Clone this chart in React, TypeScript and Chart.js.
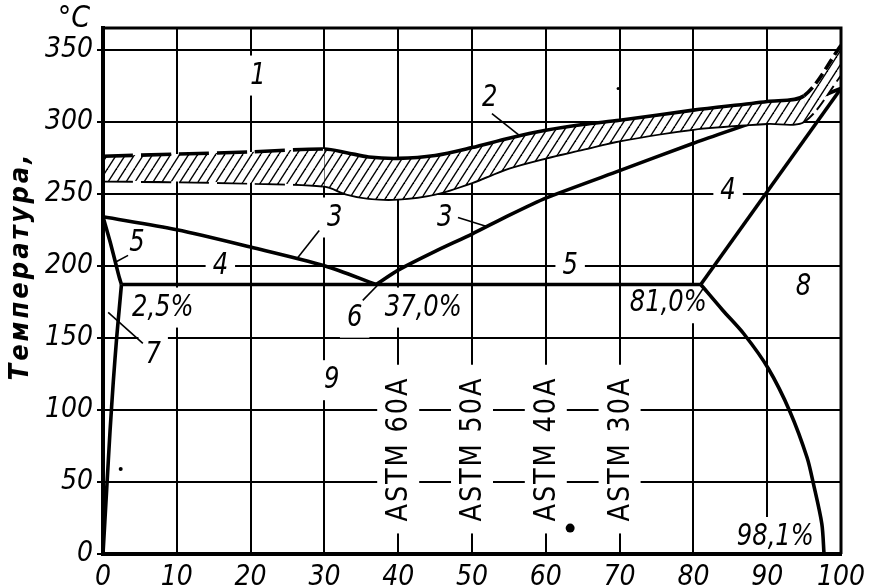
import React, { useEffect, useRef } from "react";
import { Chart, registerables } from "chart.js";
Chart.register(...registerables);

const FONT = "'DejaVu Sans Condensed', 'Liberation Sans Narrow', 'Roboto Condensed', 'DejaVu Sans', sans-serif";

// axis ticks
const xTickValues = [0, 10, 20, 30, 40, 50, 60, 70, 80, 90, 100];
const yTickValues = [0, 50, 100, 150, 200, 250, 300, 350];

// hatched band (2)
const bandX = [0, 10, 20, 30, 33, 36, 40, 45, 50, 55, 60, 65, 70, 80, 90, 95, 100];
const bandUpper = [276, 277.5, 279, 281, 278.5, 275.5, 274.5, 276.5, 282, 288.5, 294, 298, 301, 308, 314, 318, 353];
const bandLower = [259, 258.5, 257.5, 255.5, 250, 247, 246.5, 250, 258, 268, 275, 281, 287, 295, 299, 300.5, 333];

// liquidus (3)
const liqLeftX = [0, 10, 20, 30, 37];
const liqLeftY = [234, 225, 213, 200, 187];
const liqRightX = [37, 40, 45, 50, 55, 60, 70, 80, 90, 100];
const liqRightY = [187, 197, 210, 222, 235, 247, 266, 285, 303, 323];

// solidus (5)
const solLeftX = [0, 1, 1.8, 2.2, 2.5];
const solLeftY = [234, 216, 200, 192, 187];
const eutX = [2.5, 81];
const eutY = [187, 187];
const solRightX = [81, 100];
const solRightY = [187, 323];

// solvus (7) and right solvus
const solvLeftX = [2.5, 2.2, 1.85, 1.4, 0.95, 0.5, 0];
const solvLeftY = [187, 170, 150, 120, 85, 45, 0];
const solvRightX = [81, 84, 86.8, 90.15, 93.1, 95.4, 96.25, 97.4, 97.7];
const solvRightY = [187, 169, 153, 128.7, 98.6, 67, 49, 21, 0];

// leader lines
const lead2 = [[52.7, 305.6], [58.5, 282]];
const lead3a = [[29.3, 224.5], [26.3, 205]];
const lead3b = [[48.1, 233.5], [52.0, 227.3]];
const lead5 = [[3.4, 207.2], [1.6, 202.3]];
const lead6 = [[35.2, 176], [37.3, 187]];
const lead7 = [[0.7, 167.7], [5.4, 146.2]];

// stray dots of the original
const dotX = [63.3, 69.8, 2.4];
const dotY = [18, 323, 59];

// text labels
const labelText = ["1", "2", "3", "3", "4", "4", "5", "5", "6", "7", "8", "9", "2,5%", "37,0%", "81,0%", "98,1%"];
const labelX = [21.0, 52.4, 31.4, 46.3, 15.9, 84.7, 4.6, 63.3, 34.1, 6.8, 94.9, 31.0, 8.1, 43.4, 76.6, 91.1];
const labelY = [332, 316.7, 233.5, 233.5, 200, 252, 216, 200, 164, 138, 185, 120.6, 171, 171, 174, 11.8];

const astmText = ["ASTM 60A", "ASTM 50A", "ASTM 40A", "ASTM 30A"];
const astmX = [40, 50, 60, 70];
const astmY = [72.8, 72.8, 72.8, 72.8];

const yTitle = "Температура,";
const unitText = "°C";

function pts(xs: number[], ys: number[]) {
  return xs.map((x, i) => ({ x, y: ys[i] }));
}
function pairPts(p: number[][]) {
  return p.map((a) => ({ x: a[0], y: a[1] }));
}

function makePattern(): CanvasPattern | string {
  const c = document.createElement("canvas");
  const w = 9, h = 14;
  c.width = w; c.height = h;
  const g = c.getContext("2d");
  if (!g) return "#888";
  g.fillStyle = "#fff";
  g.fillRect(0, 0, w, h);
  g.strokeStyle = "#000";
  g.lineWidth = 1.4;
  for (const dx of [-w, 0, w]) {
    g.beginPath();
    g.moveTo(dx, h);
    g.lineTo(dx + w, 0);
    g.stroke();
  }
  return g.createPattern(c, "repeat") || "#888";
}

const LABEL_SX = 0.87;

export default function App() {
  const ref = useRef<HTMLCanvasElement | null>(null);

  useEffect(() => {
    const canvas = ref.current;
    if (!canvas) return;
    const pattern = makePattern();

    const line = (data: any[], extra: any = {}) => ({
      type: "line",
      data,
      borderColor: "#000",
      borderWidth: 3.6,
      pointRadius: 0,
      fill: false,
      tension: 0,
      ...extra,
    });
    const leader = (p: number[][]) => line(pairPts(p), { borderWidth: 1.6 });

    const dashed = (ctx: any) => {
      const x0 = ctx.p0.parsed.x, x1 = ctx.p1.parsed.x;
      if (x1 <= 30) return [30, 8];
      if (x0 >= 95) return [12, 5];
      return undefined;
    };

    const annot = {
      id: "annot",
      beforeDatasetsDraw(chart: any) {
        const { ctx, scales } = chart;
        const xs = scales.x, ys = scales.y;
        ctx.save();
        ctx.fillStyle = "#fff";
        ctx.font = `italic 31px ${FONT}`;
        labelText.forEach((t, i) => {
          const px = xs.getPixelForValue(labelX[i]);
          const py = ys.getPixelForValue(labelY[i]);
          const w = ctx.measureText(t).width * LABEL_SX;
          ctx.fillRect(px - w / 2 - 7, py - 12 - 8, w + 14, 24 + 16);
        });
        ctx.font = `31px ${FONT}`;
        (ctx as any).letterSpacing = "2px";
        astmText.forEach((t, i) => {
          const px = xs.getPixelForValue(astmX[i]);
          const py = ys.getPixelForValue(astmY[i]);
          const w = ctx.measureText(t).width * 0.92;
          ctx.fillRect(px - 21, py - w / 2 - 12, 42, w + 24);
        });
        ctx.restore();
      },
      afterDatasetsDraw(chart: any) {
        const { ctx, scales } = chart;
        const xs = scales.x, ys = scales.y;
        ctx.save();
        ctx.fillStyle = "#000";
        ctx.textAlign = "center";
        ctx.textBaseline = "middle";
        ctx.font = `italic 31px ${FONT}`;
        labelText.forEach((t, i) => {
          ctx.save();
          ctx.translate(xs.getPixelForValue(labelX[i]), ys.getPixelForValue(labelY[i]));
          ctx.scale(LABEL_SX, 1);
          ctx.fillText(t, 0, 0);
          ctx.restore();
        });
        ctx.font = `31px ${FONT}`;
        (ctx as any).letterSpacing = "2px";
        astmText.forEach((t, i) => {
          ctx.save();
          ctx.translate(xs.getPixelForValue(astmX[i]) + 1, ys.getPixelForValue(astmY[i]));
          ctx.rotate(-Math.PI / 2);
          ctx.scale(0.92, 1);
          ctx.fillText(t, 0, 0);
          ctx.restore();
        });
        ctx.restore();
      },
      afterDraw(chart: any) {
        const { ctx, chartArea } = chart;
        const { left, right, top, bottom } = chartArea;
        ctx.save();
        ctx.strokeStyle = "#000";
        ctx.lineWidth = 3;
        ctx.beginPath();
        ctx.moveTo(left, top);
        ctx.lineTo(right, top);
        ctx.lineTo(right, bottom);
        ctx.stroke();
        ctx.lineWidth = 4;
        ctx.beginPath();
        ctx.moveTo(left, top);
        ctx.lineTo(left, bottom);
        ctx.lineTo(right, bottom);
        ctx.stroke();
        ctx.fillStyle = "#000";
        ctx.textAlign = "center";
        ctx.textBaseline = "middle";
        ctx.font = `italic 30px ${FONT}`;
        ctx.fillText(unitText, 74, 19);
        ctx.save();
        ctx.translate(21, 266);
        ctx.rotate(-Math.PI / 2);
        ctx.font = `italic bold 27px ${FONT}`;
        (ctx as any).letterSpacing = "3px";
        ctx.fillText(yTitle, 0, 0);
        ctx.restore();
        ctx.restore();
      },
    };

    const tickFont = { family: FONT, size: 28, style: "italic" as const, weight: "normal" as const };

    const chart = new Chart(canvas, {
      type: "line",
      data: {
        datasets: [
          line(pts(bandX, bandUpper), { fill: "+1", backgroundColor: pattern, tension: 0.3, segment: { borderDash: dashed } }),
          line(pts(bandX, bandLower), { tension: 0.3, segment: { borderDash: dashed } }),
          line(pts(liqLeftX, liqLeftY), { tension: 0.3 }),
          line(pts(liqRightX, liqRightY), { tension: 0.2 }),
          line(pts(solLeftX, solLeftY), { tension: 0.2 }),
          line(pts(eutX, eutY)),
          line(pts(solRightX, solRightY)),
          line(pts(solvLeftX, solvLeftY), { tension: 0.2 }),
          line(pts(solvRightX, solvRightY), { tension: 0.3 }),
          leader(lead2),
          leader(lead3a),
          leader(lead3b),
          leader(lead5),
          leader(lead6),
          leader(lead7),
          {
            type: "scatter",
            data: pts(dotX, dotY),
            pointRadius: [4.5, 1.5, 2],
            pointBackgroundColor: "#000",
            pointBorderWidth: 0,
            showLine: false,
          } as any,
        ] as any,
      },
      options: {
        animation: false,
        responsive: false,
        maintainAspectRatio: false,
        layout: { padding: { top: 28, right: 47, left: 0, bottom: 0 } },
        plugins: { legend: { display: false }, tooltip: { enabled: false } },
        scales: {
          x: {
            type: "linear",
            min: 0,
            max: 100,
            afterBuildTicks: (s: any) => { s.ticks = xTickValues.map((v) => ({ value: v })); },
            afterFit: (s: any) => { s.height = 33; },
            grid: { color: "#000", lineWidth: 2, drawTicks: false },
            border: { color: "#000", width: 4 },
            ticks: { color: "#000", font: tickFont, padding: 7, maxRotation: 0, autoSkip: false },
          },
          y: {
            type: "linear",
            min: 0,
            max: 365,
            afterBuildTicks: (s: any) => { s.ticks = yTickValues.map((v) => ({ value: v })); },
            afterFit: (s: any) => { s.width = 103; },
            grid: { color: "#000", lineWidth: 2, tickLength: 6 },
            border: { color: "#000", width: 4 },
            ticks: { color: "#000", font: tickFont, padding: 4, autoSkip: false },
          },
        },
      } as any,
      plugins: [annot],
    });
    return () => chart.destroy();
  }, []);

  return (
    <div style={{ position: "fixed", left: 0, top: 0, width: 888, height: 587, background: "#fff" }}>
      <canvas ref={ref} width={888} height={587} style={{ display: "block" }} />
    </div>
  );
}
